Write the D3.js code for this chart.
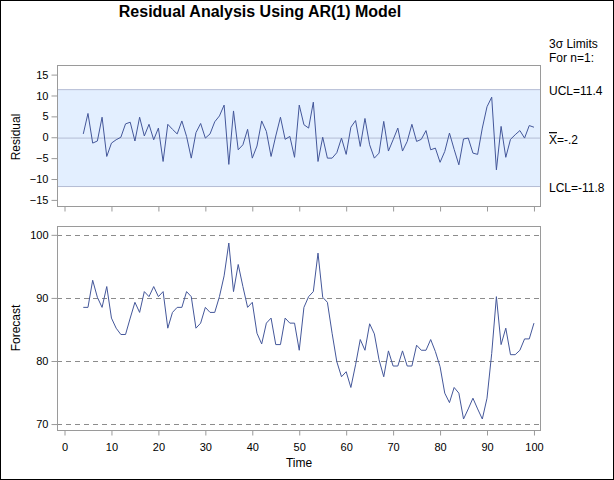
<!DOCTYPE html>
<html><head><meta charset="utf-8">
<script src="https://cdn.jsdelivr.net/npm/d3@7"></script>
<style>
body{margin:0;background:#fff;}
svg{display:block;font-family:"Liberation Sans",Arial,sans-serif;}
</style></head>
<body>
<svg id="chart" width="614" height="480"></svg>
<script>
const time = d3.range(4, 101);
const residual = [0.8,5.7,-1.4,-0.9,4.8,-4.6,-1.4,-0.6,0.0,3.2,3.6,-0.9,4.8,0.3,3.1,-0.6,2.2,-5.8,3.1,1.9,0.8,3.9,0.2,-5.0,1.1,3.3,-0.2,0.8,3.7,5.1,7.7,-6.5,6.3,-3.0,-1.8,1.9,-5.0,-2.1,3.9,1.4,-4.6,0.3,4.8,-0.5,0.2,-4.8,7.7,3.0,2.2,8.4,-5.8,0.0,-5.0,-5.0,-3.7,-0.2,-4.1,2.4,4.0,-2.2,4.5,-1.8,-5.0,-3.8,3.8,-3.3,-0.6,2.2,-3.3,-1.0,3.1,-1.0,-0.5,1.6,-3.0,-2.6,-6.0,-3.4,1.0,-2.9,-6.6,-0.4,-0.2,-3.8,-4.1,2.2,7.3,9.6,-7.8,2.6,-4.8,-0.5,0.6,1.6,-0.2,2.8,2.4];
const forecast = [88.5,88.5,92.8,90.1,88.5,91.8,86.8,85.2,84.2,84.2,86.8,89.3,87.7,91.0,90.2,91.8,90.2,91.0,85.2,87.7,88.5,88.5,91.0,90.2,85.2,86.0,88.5,87.7,87.7,90.2,93.5,98.7,91.0,95.3,91.8,88.5,89.3,84.4,82.7,86.0,86.8,82.6,82.6,86.8,86.0,86.0,81.7,88.5,90.2,91.0,97.1,90.1,89.3,84.4,79.9,77.5,78.3,75.8,79.4,83.4,81.7,85.9,84.3,80.2,77.5,81.6,79.2,79.2,81.6,79.2,79.2,82.5,81.7,81.7,83.4,81.5,79.1,74.9,73.4,75.8,74.9,70.8,72.4,74.1,72.4,70.8,74.1,81.2,90.2,82.6,85.2,81.0,81.0,81.7,83.5,83.5,86.0];
const xTicks = [0,10,20,30,40,50,60,70,80,90,100];
const resTicks = [-15,-10,-5,0,5,10,15];
const fcTicks = [70,80,90,100];
const limits = {ucl: 11.4, center: -0.2, lcl: -11.8};
const limitLabels = ["UCL=11.4", "=-.2", "LCL=-11.8"];

const svg = d3.select("#chart");
const L = 57, R = 541;
const lineColor = "#44579a", frameColor = "#9a9a9a";

svg.append("rect").attr("x",0.5).attr("y",0.5).attr("width",613).attr("height",479)
  .attr("fill","none").attr("stroke","#000");

const x = d3.scaleLinear().domain([-1.6, 101.5]).range([L, R]);
const yR = d3.scaleLinear().domain([-16.7, 17.3]).range([207, 65]);
const yF = d3.scaleLinear().domain([68.9, 101.4]).range([431, 226]);

// title
svg.append("text").attr("x",260).attr("y",17).attr("text-anchor","middle")
  .attr("font-weight","bold").attr("font-size",16).text("Residual Analysis Using AR(1) Model");

// ---- top panel
const topG = svg.append("g");
topG.append("rect").attr("x",L).attr("y",yR(limits.ucl)).attr("width",R-L)
  .attr("height",yR(limits.lcl)-yR(limits.ucl)).attr("fill","#e3efff");
[limits.ucl, limits.center, limits.lcl].forEach(v=>{
  topG.append("line").attr("x1",L).attr("x2",R).attr("y1",yR(v)).attr("y2",yR(v))
    .attr("stroke","#b4bcd4").attr("stroke-width",1);
});
topG.append("path").datum(time.map((t,i)=>[t,residual[i]]))
  .attr("fill","none").attr("stroke",lineColor).attr("stroke-width",1)
  .attr("d", d3.line().x(d=>x(d[0])).y(d=>yR(d[1])));
topG.append("rect").attr("x",L+0.5).attr("y",65.5).attr("width",R-L-1).attr("height",141)
  .attr("fill","none").attr("stroke",frameColor);

const axStyle = g=>{
  g.selectAll(".domain").remove();
  g.selectAll(".tick line").attr("stroke",frameColor);
  g.selectAll(".tick text").attr("fill","#000").attr("font-size",11)
   .attr("font-family","'Liberation Sans',Arial,sans-serif");
};
svg.append("g").attr("transform","translate("+(L+0.5)+",0)")
  .call(d3.axisLeft(yR).tickValues(resTicks).tickSize(6).tickPadding(3)).call(axStyle);
svg.append("g").attr("transform","translate(0,206.5)")
  .call(d3.axisBottom(x).tickValues(xTicks).tickSize(5).tickFormat("")).call(axStyle);

svg.append("text").attr("transform","translate(20,137) rotate(-90)").attr("text-anchor","middle")
  .attr("font-size",12).text("Residual");

// right labels
const rl = svg.append("g").attr("font-size",12);
rl.append("text").attr("x",549).attr("y",48).text("3\u03c3 Limits");
rl.append("text").attr("x",549).attr("y",62).text("For n=1:");
rl.append("text").attr("x",549).attr("y",yR(limits.ucl)+5).text(limitLabels[0]);
const xb = rl.append("text").attr("x",549).attr("y",yR(limits.center)+6);
xb.append("tspan").attr("text-decoration","overline").text("X");
xb.append("tspan").text(limitLabels[1]);
rl.append("text").attr("x",549).attr("y",yR(limits.lcl)+5).text(limitLabels[2]);

// ---- bottom panel
const bot = svg.append("g");
fcTicks.forEach(v=>{
  bot.append("line").attr("x1",L).attr("x2",R).attr("y1",Math.round(yF(v))+0.5).attr("y2",Math.round(yF(v))+0.5)
    .attr("stroke","#8c8c8c").attr("stroke-dasharray","5,4");
});
bot.append("path").datum(time.map((t,i)=>[t,forecast[i]]))
  .attr("fill","none").attr("stroke",lineColor).attr("stroke-width",1)
  .attr("d", d3.line().x(d=>x(d[0])).y(d=>yF(d[1])));
bot.append("rect").attr("x",L+0.5).attr("y",226.5).attr("width",R-L-1).attr("height",204)
  .attr("fill","none").attr("stroke",frameColor);

svg.append("g").attr("transform","translate("+(L+0.5)+",0)")
  .call(d3.axisLeft(yF).tickValues(fcTicks).tickSize(6).tickPadding(3)).call(axStyle);
svg.append("g").attr("transform","translate(0,430.5)")
  .call(d3.axisBottom(x).tickValues(xTicks).tickSize(5).tickPadding(8)).call(axStyle);

svg.append("text").attr("transform","translate(20,328) rotate(-90)").attr("text-anchor","middle")
  .attr("font-size",12).text("Forecast");
svg.append("text").attr("x",299).attr("y",467).attr("text-anchor","middle")
  .attr("font-size",12).text("Time");
</script>
</body></html>
